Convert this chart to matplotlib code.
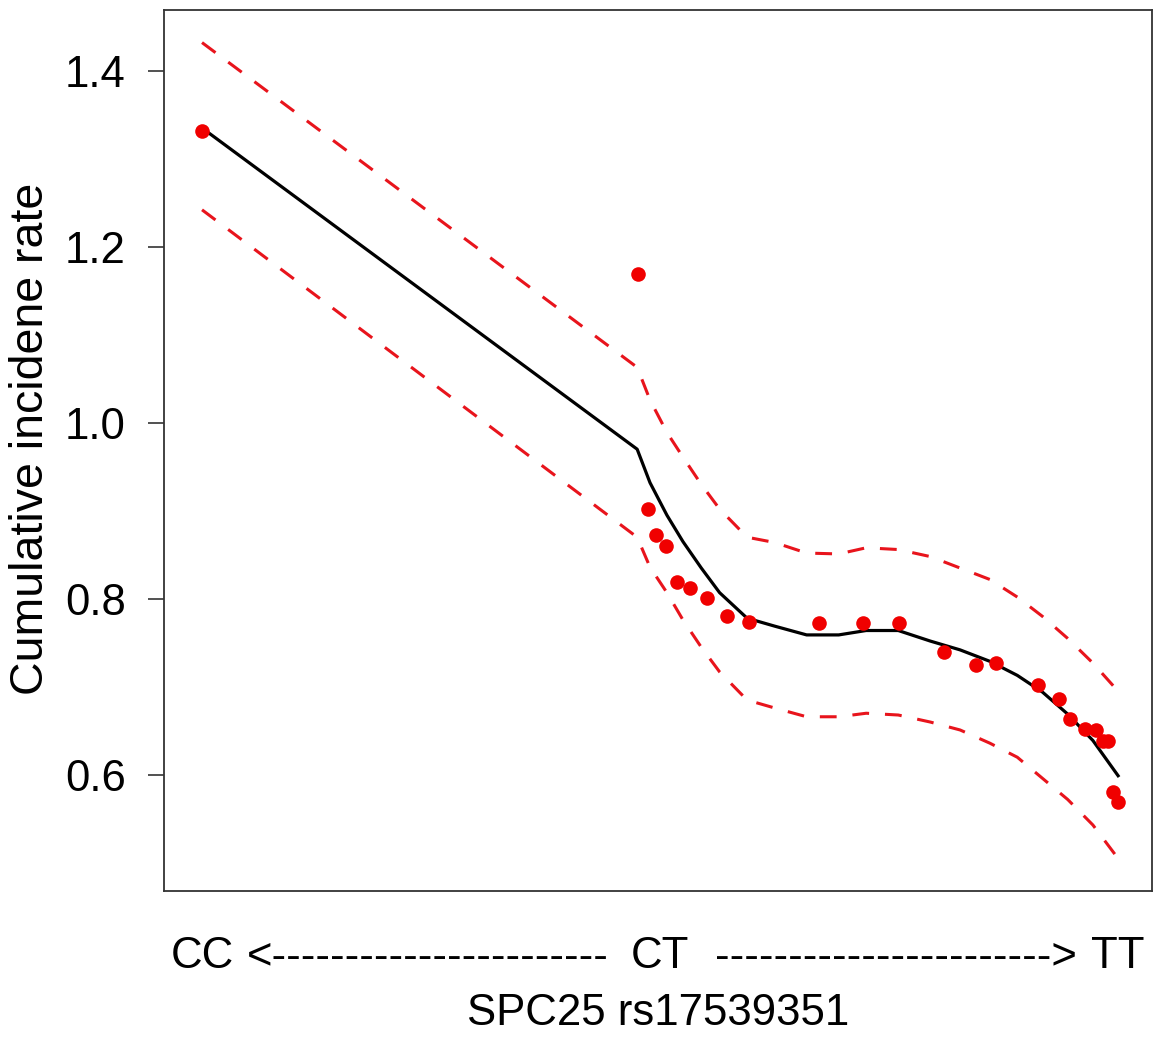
"""
Cumulative incidence rate by SPC25 rs17539351 genotype score
"""

import matplotlib
matplotlib.use("Agg")
import matplotlib.pyplot as plt

# genotype axis: 0 = CC, 1 = CT, 2 = TT
genotype_labels = ["CC", "CT", "TT"]
genotype_pos = [0, 1, 2]

# observed points
obs_x = [0.0, 0.952, 0.974, 0.991, 1.013, 1.037, 1.066, 1.103, 1.146, 1.194,
         1.347, 1.443, 1.522, 1.620, 1.690, 1.734, 1.825, 1.871, 1.895, 1.928,
         1.952, 1.967, 1.978, 1.989, 2.000]
obs_y = [1.332, 1.169, 0.902, 0.872, 0.860, 0.819, 0.812, 0.801, 0.780, 0.774,
         0.773, 0.773, 0.772, 0.740, 0.725, 0.727, 0.702, 0.686, 0.663, 0.652,
         0.651, 0.638, 0.638, 0.581, 0.569]

# fitted curve and 95% band
curve_x = [0.0, 0.95, 0.978, 1.015, 1.05, 1.09, 1.13, 1.19, 1.25, 1.32, 1.39,
           1.45, 1.52, 1.59, 1.655, 1.72, 1.78, 1.835, 1.89, 1.945, 2.0]
fit_y = [1.335, 0.970, 0.932, 0.895, 0.865, 0.835, 0.807, 0.778, 0.769, 0.759,
         0.759, 0.764, 0.764, 0.752, 0.742, 0.729, 0.713, 0.694, 0.669, 0.639, 0.599]
upper_y = [1.432, 1.063, 1.026, 0.989, 0.961, 0.930, 0.902, 0.870, 0.864, 0.852,
           0.851, 0.858, 0.856, 0.848, 0.835, 0.822, 0.802, 0.780, 0.755, 0.727, 0.695]
lower_y = [1.242, 0.870, 0.836, 0.807, 0.776, 0.745, 0.717, 0.685, 0.676, 0.666,
           0.666, 0.670, 0.668, 0.660, 0.651, 0.636, 0.620, 0.596, 0.572, 0.543, 0.505]

y_ticks = [0.6, 0.8, 1.0, 1.2, 1.4]

plt.rcParams['font.family'] = ['Liberation Sans', 'DejaVu Sans']
FS = 31.5

fig = plt.figure(figsize=(11.55, 10.43), dpi=100)
ax = fig.add_axes([0.142, 0.1457, 0.8554, 0.8447])

ax.plot(curve_x, upper_y, color='#e8141c', lw=2.2, linestyle=(0, (5.5, 5.2)))
ax.plot(curve_x, lower_y, color='#e8141c', lw=2.2, linestyle=(0, (5.5, 5.2)))
ax.plot(curve_x, fit_y, color='black', lw=2.3)
ax.plot(obs_x, obs_y, 'o', color='#f00000', markersize=10.5, markeredgewidth=0)

ax.set_xlim(-0.083, 2.074)
ax.set_ylim(0.468, 1.469)

ax.set_yticks(y_ticks)
ax.set_yticklabels([f"{v:.1f}" for v in y_ticks])
ax.tick_params(axis='y', length=11.5, width=1.2, pad=16, labelsize=FS, color='#333333')
ax.set_xticks([])
for s in ax.spines.values():
    s.set_linewidth(1.3)
    s.set_color('#333333')

# genotype labels and arrows under the axis
tr = ax.get_xaxis_transform()
for pos, lab in zip(genotype_pos, genotype_labels):
    ax.text(pos, -0.0874, lab, transform=tr, ha='center', va='baseline', fontsize=FS)
ax.text(0.494, -0.0874, "<" + "-" * 23, transform=tr, ha='center', va='baseline', fontsize=FS)
ax.text(1.516, -0.0874, "-" * 23 + ">", transform=tr, ha='center', va='baseline', fontsize=FS)
ax.text(0.5, -0.1521, "SPC25 rs17539351", transform=ax.transAxes,
        ha='center', va='baseline', fontsize=FS)

fig.text(31 / 1155, 1 - 439 / 1043, "Cumulative incidene rate", rotation=90,
         ha='center', va='center', fontsize=FS + 2)

fig.savefig("out.png", dpi=100)
